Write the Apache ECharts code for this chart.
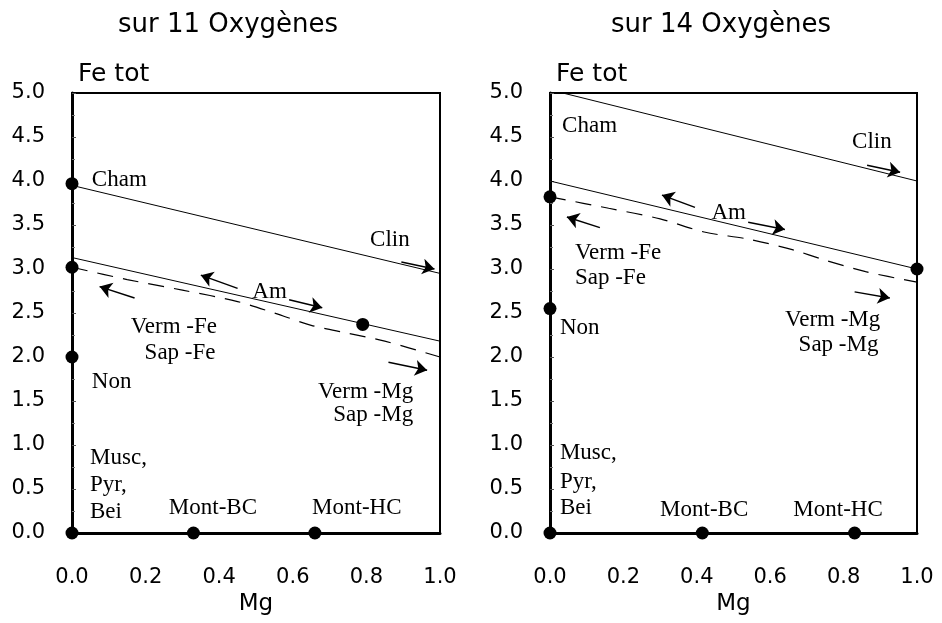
<!DOCTYPE html>
<html>
<head>
<meta charset="utf-8">
<script src="https://cdn.jsdelivr.net/npm/echarts@6/dist/echarts.min.js"></script>
<style>
  html, body { margin: 0; background: #fff; }
  #chart { width: 942px; height: 623px; }
</style>
</head>
<body>
<div id="chart"></div>
<script>
// x = Mg, y = Fe tot
var titles = ['sur 11 Oxygènes', 'sur 14 Oxygènes'];

// --- sur 11 oxygenes ---
var leftPoints = [[0, 0], [0.33, 0], [0.66, 0], [0, 2.0], [0, 3.02], [0, 3.97], [0.79, 2.37]];
var leftClin = [[0, 3.95], [1, 2.95]];
var leftAm = [[0, 3.13], [1, 2.18]];
var leftVerm = [[0, 3.02], [0.15, 2.88], [0.3, 2.76], [0.45, 2.63], [0.55, 2.5], [0.65, 2.36], [0.75, 2.27], [0.85, 2.18], [1, 2.0]];
var leftArrows = [
  [[0.895, 3.08], [0.985, 3.0]],
  [[0.45, 2.78], [0.35, 2.93]],
  [[0.59, 2.65], [0.68, 2.56]],
  [[0.17, 2.67], [0.075, 2.8]],
  [[0.86, 1.94], [0.965, 1.85]]
];
var leftLabels = [
  ['Cham', 0.054, 4.01, 'left'],
  ['Clin', 0.81, 3.33, 'left'],
  ['Am', 0.49, 2.74, 'left'],
  ['Verm -Fe', 0.394, 2.34, 'right'],
  ['Sap -Fe', 0.39, 2.05, 'right'],
  ['Non', 0.054, 1.72, 'left'],
  ['Verm -Mg', 0.927, 1.6, 'right'],
  ['Sap -Mg', 0.927, 1.34, 'right'],
  ['Musc,', 0.049, 0.85, 'left'],
  ['Pyr,', 0.049, 0.55, 'left'],
  ['Bei', 0.049, 0.24, 'left'],
  ['Mont-BC', 0.383, 0.28, 'center'],
  ['Mont-HC', 0.774, 0.28, 'center']
];

// --- sur 14 oxygenes ---
var rightPoints = [[0, 0], [0.415, 0], [0.83, 0], [0, 2.55], [0, 3.82], [1, 3.0]];
var rightClin = [[0.035, 5.0], [1, 4.0]];
var rightAm = [[0, 4.0], [1, 3.0]];
var rightVerm = [[0, 3.82], [0.16, 3.69], [0.3, 3.57], [0.42, 3.42], [0.54, 3.34], [0.66, 3.22], [0.75, 3.1], [0.86, 2.97], [1, 2.85]];
var rightArrows = [
  [[0.864, 4.18], [0.954, 4.1]],
  [[0.395, 3.7], [0.305, 3.84]],
  [[0.54, 3.53], [0.64, 3.45]],
  [[0.136, 3.47], [0.046, 3.59]],
  [[0.83, 2.74], [0.926, 2.67]]
];
var rightLabels = [
  ['Cham', 0.033, 4.62, 'left'],
  ['Clin', 0.823, 4.44, 'left'],
  ['Am', 0.44, 3.64, 'left'],
  ['Verm -Fe', 0.068, 3.18, 'left'],
  ['Sap -Fe', 0.068, 2.9, 'left'],
  ['Non', 0.027, 2.33, 'left'],
  ['Verm -Mg', 0.9, 2.42, 'right'],
  ['Sap -Mg', 0.895, 2.14, 'right'],
  ['Musc,', 0.027, 0.91, 'left'],
  ['Pyr,', 0.027, 0.58, 'left'],
  ['Bei', 0.027, 0.28, 'left'],
  ['Mont-BC', 0.42, 0.26, 'center'],
  ['Mont-HC', 0.785, 0.26, 'center']
];

var sans = 'DejaVu Sans';
var serif = 'Liberation Serif';

function xAxisFor(i) {
  return {
    gridIndex: i, type: 'value', min: 0, max: 1, interval: 0.2,
    name: 'Mg', nameLocation: 'middle', nameGap: 60,
    nameTextStyle: { fontFamily: sans, fontSize: 23, color: '#000' },
    axisLine: { lineStyle: { color: '#000', width: 3 } },
    axisTick: { show: false },
    splitLine: { show: false },
    axisLabel: { margin: 34, fontFamily: sans, fontSize: 21, color: '#000', formatter: function (v) { return v.toFixed(1); } }
  };
}
function yAxisFor(i) {
  return {
    gridIndex: i, type: 'value', min: 0, max: 5, interval: 0.5,
    name: 'Fe tot', nameLocation: 'end', nameGap: 6,
    nameTextStyle: { fontFamily: sans, fontSize: 25, color: '#000', align: 'left', verticalAlign: 'bottom', padding: [0, 0, 0, 6] },
    axisLine: { lineStyle: { color: '#000', width: 3 } },
    axisTick: { show: true, inside: true, length: 4, lineStyle: { color: '#555', width: 1 } },
    minorTick: { show: true, splitNumber: 2, length: 3, lineStyle: { color: '#777' } },
    splitLine: { show: false },
    axisLabel: { margin: 27, fontFamily: sans, fontSize: 21, color: '#000', formatter: function (v) { return v.toFixed(1); } }
  };
}

function panelSeries(i, pts, clin, am, verm, arrows, labels) {
  return [
    { type: 'line', xAxisIndex: i, yAxisIndex: i, data: clin, symbol: 'none', lineStyle: { color: '#000', width: 1 } },
    { type: 'line', xAxisIndex: i, yAxisIndex: i, data: am, symbol: 'none', lineStyle: { color: '#000', width: 1 } },
    { type: 'line', xAxisIndex: i, yAxisIndex: i, data: verm, symbol: 'none', smooth: 0.3,
      lineStyle: { color: '#000', width: 1.2, type: [16, 10] } },
    { type: 'lines', coordinateSystem: 'cartesian2d', xAxisIndex: i, yAxisIndex: i,
      symbol: ['none', 'arrow'], symbolSize: 12,
      lineStyle: { color: '#000', width: 1.5, opacity: 1 },
      data: arrows.map(function (a) { return { coords: a }; }) },
    { type: 'scatter', xAxisIndex: i, yAxisIndex: i, data: pts, symbolSize: 13,
      itemStyle: { color: '#000', opacity: 1 }, z: 5 },
    { type: 'scatter', xAxisIndex: i, yAxisIndex: i, symbolSize: 0, silent: true,
      itemStyle: { opacity: 1 },
      data: labels.map(function (l) {
        return { name: l[0], value: [l[1], l[2]], label: { align: l[3] } };
      }),
      label: { show: true, position: 'inside', formatter: '{b}', verticalAlign: 'middle',
        fontFamily: serif, fontSize: 23, color: '#000' } }
  ];
}

var chart = echarts.init(document.getElementById('chart'));
chart.setOption({
  animation: false,
  backgroundColor: '#fff',
  title: [
    { text: titles[0], left: 223, top: 7, textAlign: 'center',
      textStyle: { fontFamily: sans, fontSize: 26, fontWeight: 'normal', color: '#000' } },
    { text: titles[1], left: 716, top: 7, textAlign: 'center',
      textStyle: { fontFamily: sans, fontSize: 26, fontWeight: 'normal', color: '#000' } }
  ],
  grid: [
    { left: 72, right: 502, top: 93, bottom: 90, show: true, borderColor: '#000', borderWidth: 2 },
    { left: 550, right: 25, top: 93, bottom: 90, show: true, borderColor: '#000', borderWidth: 2 }
  ],
  xAxis: [xAxisFor(0), xAxisFor(1)],
  yAxis: [yAxisFor(0), yAxisFor(1)],
  series: panelSeries(0, leftPoints, leftClin, leftAm, leftVerm, leftArrows, leftLabels)
    .concat(panelSeries(1, rightPoints, rightClin, rightAm, rightVerm, rightArrows, rightLabels))
});
</script>
</body>
</html>
